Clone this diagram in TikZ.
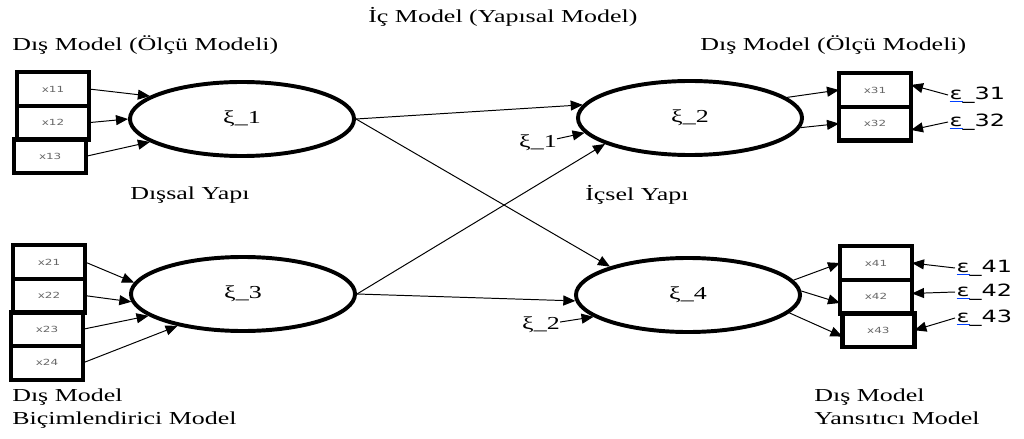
\documentclass[tikz,border=0pt]{standalone}
\usepackage{graphicx}
\usepackage{fontspec}
\setmainfont{Liberation Serif}
\setsansfont{DejaVu Sans}
\usetikzlibrary{shapes.geometric, arrows.meta, positioning}

% the reference text is drawn wide
\newcommand{\wide}[1]{\scalebox{1.42}[1]{#1}}
\newcommand{\epsu}{\textcolor{blue!75!cyan}{\underline{\textcolor{black}{ε}}}}

\begin{document}
\begin{tikzpicture}[
    x=0.025cm, y=-0.025cm,
    ind/.style={
      rectangle, draw=black, line width=3pt, outer sep=0pt,
      minimum width=1.8cm, minimum height=0.84cm,
      font=\sffamily\fontsize{6}{7}\selectfont, text=black!60
    },
    latent/.style={
      ellipse, draw=black, line width=2.8pt,
      minimum width=5.6cm, minimum height=1.85cm,
      font=\fontsize{13}{15}\selectfont
    },
    lbl/.style={font=\fontsize{13}{16}\selectfont, inner sep=0pt},
    err/.style={font=\sffamily\fontsize{12}{14}\selectfont, inner sep=1pt},
    arr/.style={-{Triangle[length=3mm, width=2.5mm]}, line width=0.7pt},
    node distance=0pt
  ]
  \useasboundingbox (0,0) rectangle (1024,439);

  % latent variables
  \node[latent] (xi1) at (242,119) {\wide{ξ\_1}};
  \node[latent] (xi2) at (690,118) {\wide{ξ\_2}};
  \node[latent] (xi3) at (243,294) {\wide{ξ\_3}};
  \node[latent] (xi4) at (688,295) {\wide{ξ\_4}};

  % indicators
  \node[ind] (x11) at (53,89) {\wide{x11}};
  \node[ind, below=of x11] (x12) {\wide{x12}};
  \node[ind, below=of x12, xshift=-0.07cm] (x13) {\wide{x13}};

  \node[ind] (x21) at (49,262) {\wide{x21}};
  \node[ind, below=of x21] (x22) {\wide{x22}};
  \node[ind, below=of x22, xshift=-0.05cm] (x23) {\wide{x23}};
  \node[ind, below=of x23] (x24) {\wide{x24}};

  \node[ind] (x31) at (875,90) {\wide{x31}};
  \node[ind, below=of x31] (x32) {\wide{x32}};

  \node[ind] (x41) at (876,263) {\wide{x41}};
  \node[ind, below=of x41] (x42) {\wide{x42}};
  \node[ind, below=of x42, xshift=0.06cm] (x43) {\wide{x43}};

  % error terms
  \node[err, anchor=west] (e31) at (948,95)  {\wide{\epsu\_31}};
  \node[err, anchor=west] (e32) at (948,122) {\wide{\epsu\_32}};
  \node[err, anchor=west] (e41) at (955,268) {\wide{\epsu\_41}};
  \node[err, anchor=west] (e42) at (955,292) {\wide{\epsu\_42}};
  \node[err, anchor=west] (e43) at (955,318) {\wide{\epsu\_43}};

  \node[lbl] (z1) at (538,143) {\wide{ξ\_1}};
  \node[lbl] (z2) at (541,325) {\wide{ξ\_2}};

  % texts
  \node[lbl, anchor=west] (inner) at (368,17) {\wide{İç Model (Yapısal Model)}};
  \node[lbl, anchor=west] (outl) at (12,45) {\wide{Dış Model (Ölçü Modeli)}};
  \node[lbl, anchor=west] (outr) at (700,45) {\wide{Dış Model (Ölçü Modeli)}};
  \node[lbl, anchor=west] (exo) at (130,195) {\wide{Dışsal Yapı}};
  \node[lbl, anchor=west] (endo) at (585,195) {\wide{İçsel Yapı}};
  \node[lbl, anchor=north west, align=left] (form) at (12,389)
        {\wide{Dış Model}\\\wide{Biçimlendirici Model}};
  \node[lbl, anchor=north west, align=left] (refl) at (814,389)
        {\wide{Dış Model}\\\wide{Yansıtıcı Model}};

  % formative side
  \draw[arr] (x11.east) -- (xi1.166);
  \draw[arr] (x12.east) -- (xi1.180);
  \draw[arr] (x13.east) -- (xi1.194);
  \draw[arr] (x21.east) -- (xi3.174);
  \draw[arr] (x22.east) -- (xi3.184);
  \draw[arr] (x23.east) -- (xi3.193);
  \draw[arr] (x24.east) -- (xi3.206);

  % structural paths
  \draw[arr] (xi1.east) -- (xi2.173);
  \draw[arr] (xi1.east) -- (xi4.160);
  \draw[arr] (xi3.east) -- (xi2.197);
  \draw[arr] (xi3.east) -- (xi4.183);
  \draw[arr] (z1) -- (xi2.188);
  \draw[arr] (z2) -- (xi4.193);

  % reflective side
  \draw[arr] (xi2.12)  -- (x31.west);
  \draw[arr] (xi2.355) -- (x32.west);
  \draw[arr] (xi4.8)   -- (x41.west);
  \draw[arr] (xi4.2)   -- (x42.190);
  \draw[arr] (xi4.350) -- (x43.190);
  \draw[arr] (e31.west) -- (x31.8);
  \draw[arr] (e32.west) -- (x32.350);
  \draw[arr] (e41.west) -- (x41.east);
  \draw[arr] (e42.west) -- (x42.5);
  \draw[arr] (e43.west) -- (x43.east);
\end{tikzpicture}
\end{document}
